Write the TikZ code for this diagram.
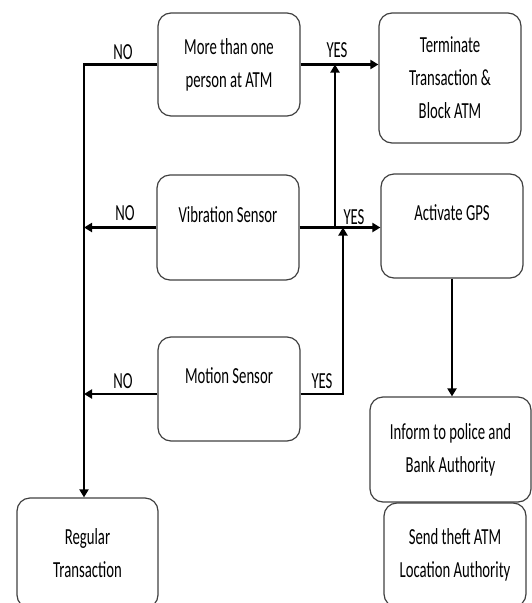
\documentclass[tikz,border=0pt]{standalone}
\usepackage{fontspec}
\setmainfont{Carlito}[FakeStretch=0.64]
\usetikzlibrary{arrows.meta}

\begin{document}
\begin{tikzpicture}[x=1pt, y=-1pt,
  box/.style={draw=black!75, line width=1.2pt, rounded corners=13pt, align=center,
    inner sep=0pt, font=\fontsize{23}{33}\selectfont},
  oneline/.style={text depth=26pt},
  lbl/.style={inner sep=0pt, font=\fontsize{23}{33}\selectfont},
  flow/.style={line width=2.2pt},
  arr/.style={flow, -{Triangle[length=8pt,width=9pt]}}]

\useasboundingbox (0,0) rectangle (531,603);

% sensor checks
\node (more) at (229,64.5) [box, minimum width=142pt, minimum height=103pt] {More than one\\person at ATM};
\node (vib) at (228,227.5) [box, oneline, minimum width=142pt, minimum height=105pt] {Vibration Sensor};
\node (motion) at (229,389) [box, oneline, minimum width=142pt, minimum height=104pt] {Motion Sensor};

% actions
\node (term) at (450,78) [box, minimum width=142pt, minimum height=130pt] {Terminate\\Transaction \&\\Block ATM};
\node (gps) at (452,226) [box, oneline, minimum width=142pt, minimum height=104pt] {Activate GPS};
\node (inform) at (450.5,449.5) [box, minimum width=161pt, minimum height=105pt] {Inform to police and\\Bank Authority};
\node (send) at (455,555) [box, minimum width=142pt, minimum height=104pt] {Send theft ATM\\Location Authority};
\node (reg) at (87.5,553) [box, minimum width=141pt, minimum height=110pt] {Regular\\Transaction};

% helper points
\coordinate (spine) at (84,0);
\coordinate (upj) at (335,0);
\coordinate (motj) at (343,0);
\coordinate (motin) at ([yshift=-5pt]motion.west);
\coordinate (motout) at ([yshift=-5pt]motion.east);

% NO branch
\draw[arr] (more.west) -- (more.west -| spine) -- (spine |- reg.north);
\draw[arr] (vib.west) -- (vib.west -| spine);
\draw[arr] (motin) -- (motin -| spine);

% YES branch
\draw[arr] (more.east) -- (more.east -| term.west);
\draw[arr] (vib.east) -- (vib.east -| gps.west);
\draw[arr] (vib.east -| upj) -- (more.east -| upj);
\draw[arr] (motout) -- (motout -| motj) -- (vib.east -| motj);
\draw[arr] (gps.south) -- (gps.south |- inform.north);

% labels
\node (no1) at (123,52) [lbl] {NO};
\node (no2) at (125,213) [lbl] {NO};
\node (no3) at (123,381) [lbl] {NO};
\node (yes1) at (337,50) [lbl] {YES};
\node (yes2) at (354,217) [lbl] {YES};
\node (yes3) at (322,381) [lbl] {YES};

\end{tikzpicture}
\end{document}
